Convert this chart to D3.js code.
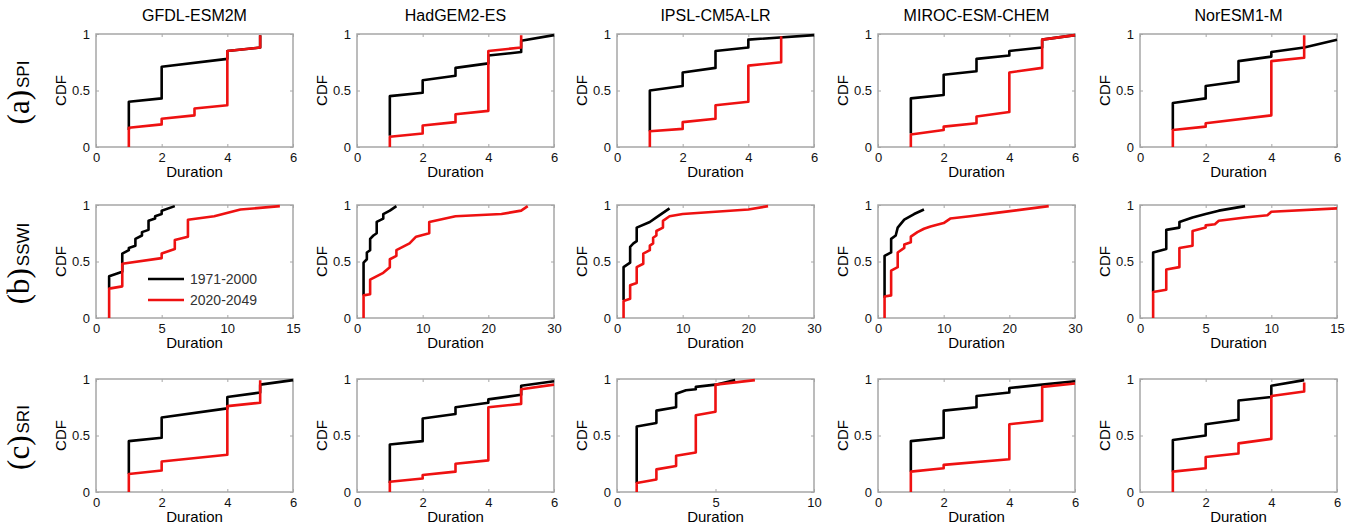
<!DOCTYPE html>
<html>
<head>
<meta charset="utf-8">
<script src="https://cdn.jsdelivr.net/npm/d3@7"></script>
<style>
  body { margin: 0; background: #fff; }
  text { font-family: "Liberation Sans", Arial, sans-serif; }
</style>
</head>
<body>
<div id="svgContainer"></div>
<script>
// data
var models = ["GFDL-ESM2M", "HadGEM2-ES", "IPSL-CM5A-LR", "MIROC-ESM-CHEM", "NorESM1-M"];
var indices = ["SPI", "SSWI", "SRI"];
var rowLetters = ["(a)", "(b)", "(c)"];
var xMax = [[6, 6, 6, 6, 6], [15, 30, 30, 30, 15], [6, 6, 10, 6, 6]];
var yTicks = [0, 0.5, 1];
var seriesNames = ["1971-2000", "2020-2049"];

// CDF curves, 1971-2000
var spiHist = [
  [[1,0.15],[1,0.40],[2,0.43],[2,0.71],[4,0.78],[4,0.85],[5,0.88],[5,0.99]],
  [[1,0.10],[1,0.45],[2,0.48],[2,0.59],[3,0.63],[3,0.70],[4,0.74],[4,0.81],[5,0.84],[5,0.94],[6,0.99]],
  [[1,0.14],[1,0.50],[2,0.54],[2,0.66],[3,0.70],[3,0.85],[4,0.88],[4,0.95],[6,0.99]],
  [[1,0.12],[1,0.43],[2,0.46],[2,0.64],[3,0.67],[3,0.78],[4,0.81],[4,0.85],[5,0.88],[5,0.95],[6,0.99]],
  [[1,0.15],[1,0.39],[2,0.43],[2,0.54],[3,0.58],[3,0.76],[4,0.80],[4,0.84],[5,0.88],[6,0.95]]
];
var sswiHist = [
  [[1,0.26],[1,0.37],[2,0.41],[2,0.57],[2.5,0.60],[2.5,0.62],[3,0.64],[3,0.70],[3.5,0.73],[3.5,0.76],[4,0.78],[4,0.86],[4.5,0.88],[4.5,0.90],[5,0.92],[5,0.95],[6,0.99]],
  [[1,0.20],[1,0.49],[1.5,0.52],[1.5,0.58],[2,0.60],[2,0.70],[2.5,0.73],[3,0.75],[3,0.85],[4,0.88],[4,0.92],[5,0.95],[6,0.99]],
  [[1,0.16],[1,0.45],[2,0.49],[2,0.63],[2.5,0.66],[3,0.68],[3,0.80],[5,0.85],[6,0.89],[8,0.97]],
  [[1,0.18],[1,0.55],[2,0.58],[2,0.70],[2.7,0.73],[3,0.80],[4,0.87],[5.5,0.92],[7,0.96]],
  [[1,0.23],[1,0.58],[2,0.61],[2,0.78],[3,0.80],[3,0.85],[4,0.89],[5,0.92],[6,0.95],[8,0.99]]
];
var sriHist = [
  [[1,0.16],[1,0.45],[2,0.48],[2,0.66],[4,0.74],[4,0.84],[5,0.88],[5,0.95],[6,0.99]],
  [[1,0.08],[1,0.42],[2,0.45],[2,0.65],[3,0.69],[3,0.75],[4,0.79],[4,0.82],[5,0.86],[5,0.94],[6,0.98]],
  [[1,0.08],[1,0.58],[2,0.61],[2,0.72],[3,0.75],[3,0.87],[3.5,0.90],[4,0.91],[4,0.93],[5,0.95],[6,0.99]],
  [[1,0.18],[1,0.45],[2,0.48],[2,0.72],[3,0.75],[3,0.85],[4,0.88],[4,0.92],[5,0.95],[6,0.98]],
  [[1,0.18],[1,0.46],[2,0.50],[2,0.60],[3,0.64],[3,0.81],[4,0.84],[4,0.94],[5,0.99]]
];

// CDF curves, 2020-2049
var spiFut = [
  [[1,0],[1,0.17],[2,0.20],[2,0.25],[3,0.28],[3,0.34],[4,0.37],[4,0.85],[5,0.88],[5,0.99]],
  [[1,0],[1,0.09],[2,0.12],[2,0.19],[3,0.22],[3,0.29],[4,0.32],[4,0.85],[5,0.88],[5,0.99]],
  [[1,0],[1,0.14],[2,0.16],[2,0.22],[3,0.25],[3,0.37],[4,0.40],[4,0.72],[5,0.75],[5,0.98]],
  [[1,0],[1,0.11],[2,0.15],[2,0.18],[3,0.21],[3,0.27],[4,0.31],[4,0.66],[5,0.70],[5,0.95],[6,0.99]],
  [[1,0],[1,0.15],[2,0.18],[2,0.21],[4,0.28],[4,0.76],[5,0.79],[5,0.99]]
];
var sswiFut = [
  [[1,0],[1,0.26],[2,0.28],[2,0.48],[5,0.53],[5,0.57],[6,0.61],[6,0.69],[7,0.72],[7,0.87],[9,0.90],[11,0.96],[14,0.99]],
  [[1,0],[1,0.20],[2,0.21],[2,0.34],[4,0.40],[5,0.45],[5,0.52],[6,0.55],[6,0.60],[8,0.66],[9,0.72],[11,0.75],[11,0.85],[15,0.90],[22,0.92],[25,0.95],[26,0.99]],
  [[1,0],[1,0.15],[2,0.17],[2,0.29],[3,0.31],[3,0.45],[4,0.48],[4,0.57],[5,0.60],[5,0.64],[5.5,0.66],[5.5,0.71],[6,0.73],[6,0.77],[7,0.80],[7,0.86],[8,0.90],[10,0.92],[20,0.96],[23,0.99]],
  [[1,0],[1,0.19],[2,0.20],[2,0.42],[3,0.45],[3,0.58],[4,0.62],[4,0.65],[5,0.67],[5,0.72],[6,0.76],[7,0.79],[8,0.81],[10,0.84],[11,0.88],[14,0.90],[18,0.93],[26,0.99]],
  [[1,0],[1,0.23],[2,0.25],[2,0.43],[3,0.45],[3,0.62],[4,0.64],[4,0.77],[5,0.80],[5,0.82],[5.7,0.83],[6,0.86],[8,0.89],[9.7,0.91],[10,0.94],[15,0.97]]
];
var sriFut = [
  [[1,0],[1,0.16],[2,0.19],[2,0.27],[4,0.33],[4,0.76],[5,0.79],[5,0.99]],
  [[1,0],[1,0.09],[2,0.12],[2,0.15],[3,0.18],[3,0.25],[4,0.28],[4,0.75],[5,0.78],[5,0.91],[6,0.95]],
  [[1,0],[1,0.08],[2,0.11],[2,0.20],[3,0.23],[3,0.32],[4,0.35],[4,0.68],[5,0.71],[5,0.95],[7,0.99]],
  [[1,0],[1,0.18],[2,0.21],[2,0.24],[4,0.29],[4,0.60],[5,0.63],[5,0.93],[6,0.96]],
  [[1,0],[1,0.18],[2,0.21],[2,0.31],[3,0.34],[3,0.43],[4,0.47],[4,0.85],[5,0.89],[5,0.97]]
];

var hist = [spiHist, sswiHist, sriHist];
var fut = [spiFut, sswiFut, sriFut];

var svgWidth = 1362, svgHeight = 532;
var svg = d3.select("#svgContainer").append("svg")
    .attr("width", svgWidth)
    .attr("height", svgHeight);

var panelLeft = [96, 357, 617, 878, 1140];
var panelTop = [34, 205, 379];
var pw = 197, ph = 113;
var boxColor = "#a6a6a6";
var colors = ["#000000", "#ee1111"];

// column titles
models.forEach(function(m, j) {
  svg.append("text")
    .attr("x", panelLeft[j] + pw / 2)
    .attr("y", 21)
    .attr("text-anchor", "middle")
    .attr("font-size", 16)
    .text(m);
});

for (var r = 0; r < 3; r++) {
  // row label
  var lab = svg.append("text")
    .attr("transform", "translate(29," + (panelTop[r] + ph / 2 + 2) + ") rotate(-90)")
    .attr("text-anchor", "middle");
  lab.append("tspan")
    .attr("font-family", "'Liberation Serif', 'DejaVu Serif', serif")
    .attr("font-size", 31)
    .text(rowLetters[r]);
  lab.append("tspan")
    .attr("font-size", 17)
    .attr("dx", 2)
    .text(indices[r]);

  for (var c = 0; c < 5; c++) {
    var g = svg.append("g")
      .attr("transform", "translate(" + panelLeft[c] + "," + panelTop[r] + ")");
    var x = d3.scaleLinear().domain([0, xMax[r][c]]).range([0, pw]);
    var y = d3.scaleLinear().domain([0, 1]).range([ph, 0]);
    var xt = xMax[r][c] == 6 ? [0, 2, 4, 6] : (xMax[r][c] == 10 ? [0, 5, 10] : (xMax[r][c] == 15 ? [0, 5, 10, 15] : [0, 10, 20, 30]));

    // axes, matlab style: ticks inside, on all four sides
    var ax = [
      g.append("g").attr("transform", "translate(0," + ph + ")").call(d3.axisBottom(x).tickValues(xt).tickSize(-3).tickPadding(6).tickFormat(d3.format("d"))),
      g.append("g").call(d3.axisTop(x).tickValues(xt).tickSize(-3).tickFormat("")),
      g.append("g").call(d3.axisLeft(y).tickValues(yTicks).tickSize(-3).tickPadding(6).tickFormat(d3.format("~g"))),
      g.append("g").attr("transform", "translate(" + pw + ",0)").call(d3.axisRight(y).tickValues(yTicks).tickSize(-3).tickFormat(""))
    ];
    ax.forEach(function(a) {
      a.select(".domain").remove();
      a.selectAll("line").attr("stroke", boxColor);
      a.selectAll("text").attr("font-size", 13).attr("font-family", "'Liberation Sans', Arial, sans-serif").attr("fill", "#111");
    });
    g.append("rect")
      .attr("width", pw).attr("height", ph)
      .attr("fill", "none")
      .attr("stroke", boxColor)
      .attr("stroke-width", 1.5);

    var line = d3.line().x(function(d) { return x(d[0]); }).y(function(d) { return y(d[1]); });
    [hist[r][c], fut[r][c]].forEach(function(pts, k) {
      g.append("path")
        .attr("d", line(pts))
        .attr("fill", "none")
        .attr("stroke", colors[k])
        .attr("stroke-width", 2.6)
        .attr("stroke-linejoin", "round");
    });

    g.append("text")
      .attr("x", pw / 2)
      .attr("y", ph + 30)
      .attr("text-anchor", "middle")
      .attr("font-size", 15)
      .text("Duration");
    g.append("text")
      .attr("transform", "translate(-30," + (ph / 2) + ") rotate(-90)")
      .attr("text-anchor", "middle")
      .attr("font-size", 15)
      .text("CDF");

    if (r == 1 && c == 0) {
      var legend = g.selectAll(".legend")
        .data(seriesNames)
        .enter().append("g")
        .attr("class", "legend")
        .attr("transform", function(d, i) { return "translate(52," + (74 + i * 21) + ")"; });
      legend.append("line")
        .attr("x1", 0).attr("x2", 36)
        .attr("stroke", function(d, i) { return colors[i]; })
        .attr("stroke-width", 2.6);
      legend.append("text")
        .attr("x", 42).attr("y", 5)
        .attr("font-size", 14)
        .attr("fill", "#333")
        .text(function(d) { return d; });
    }
  }
}
</script>
</body>
</html>
